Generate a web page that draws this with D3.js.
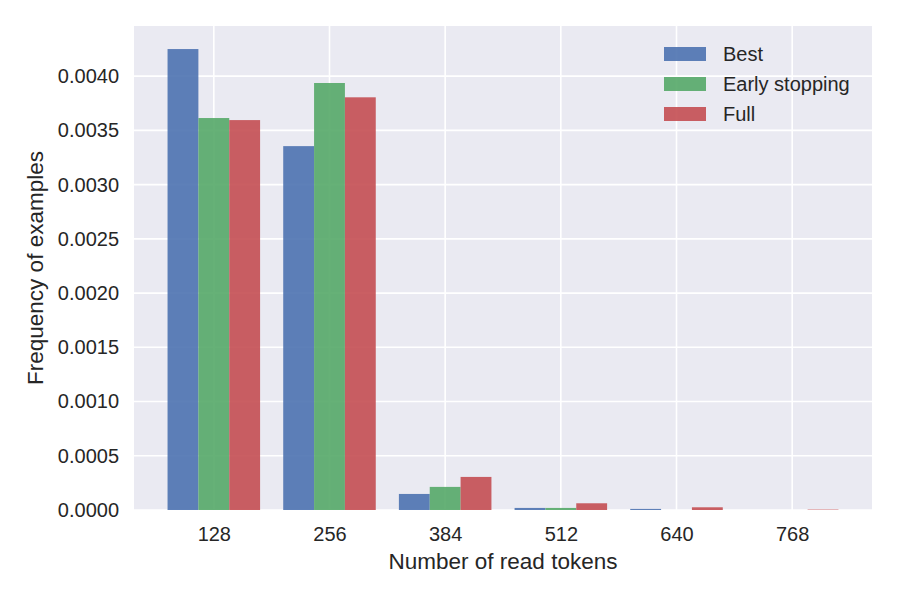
<!DOCTYPE html>
<html>
<head>
<meta charset="utf-8">
<script src="https://d3js.org/d3.v7.min.js"></script>
<style>
  body { margin: 0; background: #fff; }
  text { font-family: "Liberation Sans", Arial, sans-serif; fill: #262626; }
</style>
</head>
<body>
<svg id="mainSVG" width="900" height="600"></svg>
<script>
var $svg = d3.select("#mainSVG");

// Data
var binCenters = [128, 256, 384, 512, 640, 768];
var seriesNames = ['Best', 'Early stopping', 'Full'];
var bestVals  = [0.00425, 0.003355, 0.000148, 0.000019, 0.000010, 0];
var earlyVals = [0.003614, 0.003937, 0.000213, 0.000019, 0, 0];
var fullVals  = [0.003595, 0.003805, 0.000305, 0.000062, 0.000025, 0.000004];
var yTicks = [0, 0.0005, 0.0010, 0.0015, 0.0020, 0.0025, 0.0030, 0.0035, 0.0040];
var colors = ['#4C72B0', '#55A868', '#C44E52'];

var series = [bestVals, earlyVals, fullVals];
var binW = 128;

var margin = {left: 134, right: 28, top: 26, bottom: 90};
var W = 900, H = 600;
var pw = W - margin.left - margin.right;
var ph = H - margin.top - margin.bottom;

// matplotlib-style 5% x margin around the bar extent
var xMin = binCenters[0] - 0.4*binW, xMax = binCenters[binCenters.length-1] + 0.4*binW;
var xPad = (xMax - xMin)*0.05;
var x = d3.scaleLinear().domain([xMin - xPad, xMax + xPad]).range([0, pw]);
var yMax = d3.max(series, s=>d3.max(s))*1.05;
var y = d3.scaleLinear().domain([0, yMax]).range([ph, 0]);

var $g = $svg.append('g').attr('transform', `translate(${margin.left},${margin.top})`);

$g.append('rect').attr('width', pw).attr('height', ph).attr('fill', '#EAEAF2');

// Grid
$g.append('g').selectAll('line').data(yTicks).enter().append('line')
    .attr('x1', 0).attr('x2', pw)
    .attr('y1', d=>y(d)).attr('y2', d=>y(d))
    .attr('stroke', '#fff').attr('stroke-width', 1.6);
$g.append('g').selectAll('line').data(binCenters).enter().append('line')
    .attr('y1', 0).attr('y2', ph)
    .attr('x1', d=>x(d)).attr('x2', d=>x(d))
    .attr('stroke', '#fff').attr('stroke-width', 1.6);

// Bars
var barW = 0.8*binW/series.length;
series.forEach((vals, k)=>{
    $g.append('g').selectAll('rect').data(vals).enter().append('rect')
        .attr('x', (d,i)=>x(binCenters[i] - 0.4*binW + k*barW))
        .attr('width', x(barW) - x(0))
        .attr('y', d=>y(d))
        .attr('height', d=>ph - y(d))
        .attr('fill', colors[k])
        .attr('fill-opacity', 0.9);
});

// Axes
var xAxis = $g.append('g').attr('transform', `translate(0,${ph})`)
    .call(d3.axisBottom(x).tickValues(binCenters).tickSize(0).tickPadding(17).tickFormat(d3.format('d')));
var yAxis = $g.append('g')
    .call(d3.axisLeft(y).tickValues(yTicks).tickSize(0).tickPadding(15).tickFormat(d3.format('.4f')));
[xAxis, yAxis].forEach(a=>{
    a.select('.domain').remove();
    a.selectAll('text').style('font-size', '20px').attr('fill', '#262626')
        .style('font-family', '"Liberation Sans", Arial, sans-serif');
});

// Axis labels
$svg.append('text')
    .attr('x', margin.left + pw/2).attr('y', 569)
    .attr('text-anchor', 'middle').style('font-size', '22.5px')
    .text('Number of read tokens');
$svg.append('text')
    .attr('transform', `translate(43,${margin.top + ph/2}) rotate(-90)`)
    .attr('text-anchor', 'middle').style('font-size', '22.5px')
    .text('Frequency of examples');

// Legend
var $leg = $svg.append('g').attr('transform', 'translate(664,47)');
seriesNames.forEach((name, k)=>{
    $leg.append('rect').attr('x', 0).attr('y', k*30)
        .attr('width', 42).attr('height', 14)
        .attr('fill', colors[k]).attr('fill-opacity', 0.9);
    $leg.append('text').attr('x', 59).attr('y', k*30 + 14)
        .style('font-size', '20px').text(name);
});
</script>
</body>
</html>
